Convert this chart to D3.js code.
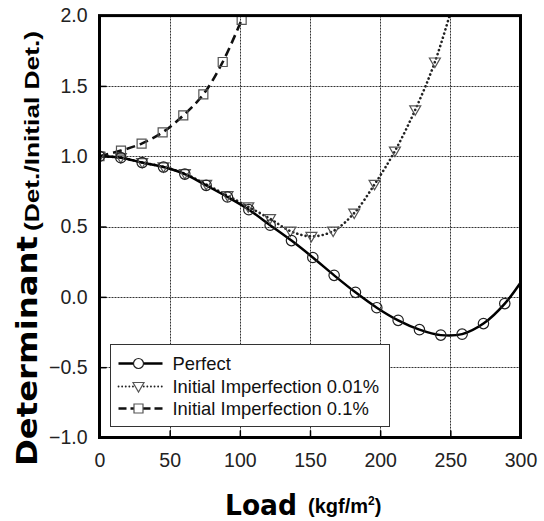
<!DOCTYPE html>
<html>
<head>
<meta charset="utf-8">
<script src="https://cdn.jsdelivr.net/npm/d3@7/dist/d3.min.js"></script>
<style>
  body { margin: 0; background: #fff; }
  svg { display: block; font-family: Arial, "Liberation Sans", sans-serif; }
</style>
</head>
<body>
<div id="chart"></div>
<script>
// Load (kgf/m2) and determinant ratio for each case
const perfectLoad = [0, 15.2, 30.4, 45.6, 60.8, 76, 91.2, 106.4, 121.6, 136.8, 152, 167.2, 182.4, 197.6, 212.8, 228, 243.2, 258.4, 273.6, 288.8, 304];
const perfectDet = [1.00, 0.99, 0.955, 0.923, 0.873, 0.793, 0.71, 0.62, 0.51, 0.40, 0.28, 0.153, 0.032, -0.077, -0.167, -0.233, -0.272, -0.265, -0.19, -0.048, 0.16];

const imp001Load = [0, 15.2, 30.4, 45.6, 60.8, 76, 91.2, 106, 121.5, 136, 151, 166.5, 181.5, 196, 210.5, 225, 239, 253];
const imp001Det = [1.00, 0.99, 0.955, 0.925, 0.876, 0.80, 0.72, 0.64, 0.556, 0.468, 0.43, 0.468, 0.596, 0.80, 1.037, 1.33, 1.67, 2.12];

const imp01Load = [0, 15.3, 30, 45, 59.7, 74, 87.8, 101.3];
const imp01Det = [1.00, 1.04, 1.09, 1.17, 1.29, 1.44, 1.67, 1.97];

const xTicks = [0, 50, 100, 150, 200, 250, 300];
const yTicks = [-1.0, -0.5, 0.0, 0.5, 1.0, 1.5, 2.0];

const seriesNames = ['Perfect', 'Initial Imperfection 0.01%', 'Initial Imperfection 0.1%'];

const W = 544, H = 521;
const plot = { left: 99.5, right: 520.5, top: 15.6, bottom: 437.5 };

const svg = d3.select('#chart').append('svg')
  .attr('width', W)
  .attr('height', H);

const x = d3.scaleLinear().domain([0, 300]).range([plot.left, plot.right]);
const y = d3.scaleLinear().domain([-1, 2]).range([plot.bottom, plot.top]);
const snap = (v) => Math.round(v) + 0.5;

// grid
const grid = svg.append('g')
  .attr('stroke', '#333')
  .attr('stroke-width', 1)
  .attr('stroke-dasharray', '2,1');
grid.selectAll('line.gx')
  .data(xTicks.slice(1, -1))
  .enter().append('line')
  .attr('class', 'gx')
  .attr('x1', (d) => snap(x(d))).attr('x2', (d) => snap(x(d)))
  .attr('y1', plot.top).attr('y2', plot.bottom);
grid.selectAll('line.gy')
  .data(yTicks.slice(1, -1))
  .enter().append('line')
  .attr('class', 'gy')
  .attr('y1', (d) => snap(y(d))).attr('y2', (d) => snap(y(d)))
  .attr('x1', plot.left).attr('x2', plot.right);

// inward ticks
svg.append('g')
  .attr('transform', `translate(0, ${plot.bottom})`)
  .call(d3.axisTop(x).tickValues(xTicks).tickSize(7).tickFormat(''))
  .call((g) => g.select('.domain').remove())
  .selectAll('line').attr('stroke', '#000').attr('stroke-width', 1.5);
svg.append('g')
  .attr('transform', `translate(${plot.left}, 0)`)
  .call(d3.axisRight(y).tickValues(yTicks).tickSize(7).tickFormat(''))
  .call((g) => g.select('.domain').remove())
  .selectAll('line').attr('stroke', '#000').attr('stroke-width', 1.5);

// tick labels
svg.append('g')
  .attr('transform', `translate(0, ${plot.bottom + 13})`)
  .call(d3.axisBottom(x).tickValues(xTicks).tickSize(0).tickFormat(d3.format('d')))
  .call((g) => g.select('.domain').remove())
  .selectAll('text')
  .attr('fill', '#222')
  .style('font-size', '19.5px')
  .style('font-family', 'Arial, "Liberation Sans", sans-serif');
svg.append('g')
  .attr('transform', `translate(${plot.left - 9}, 0)`)
  .call(d3.axisLeft(y).tickValues(yTicks).tickSize(0).tickFormat(d3.format('.1f')))
  .call((g) => g.select('.domain').remove())
  .selectAll('text')
  .attr('fill', '#222')
  .style('font-size', '19.5px')
  .style('font-family', 'Arial, "Liberation Sans", sans-serif');

// data
svg.append('clipPath').attr('id', 'clip')
  .append('rect')
  .attr('x', plot.left).attr('y', plot.top)
  .attr('width', plot.right - plot.left).attr('height', plot.bottom - plot.top);

const data = (xs, ys) => xs.map((v, i) => ({ load: v, det: ys[i] }));
const perfect = data(perfectLoad, perfectDet);
const imp001 = data(imp001Load, imp001Det);
const imp01 = data(imp01Load, imp01Det);

const line = d3.line()
  .x((d) => x(d.load))
  .y((d) => y(d.det))
  .curve(d3.curveCatmullRom);

const plotG = svg.append('g').attr('clip-path', 'url(#clip)');

const styles = [
  { dash: null, width: 2.5, color: '#000', cap: 'butt' },
  { dash: '0.1,4.2', width: 2.6, color: '#222', cap: 'round' },
  { dash: '9,5', width: 2.6, color: '#111', cap: 'butt' }
];

const triPath = 'M-5.5,-4 L5.5,-4 L0,5.5 Z';
const sqPath = 'M-4.5,-4.5 H4.5 V4.5 H-4.5 Z';

const drawMarkers = (g, pts, kind) => {
  const sel = g.selectAll(null).data(pts).enter();
  if (kind === 0) {
    sel.append('circle')
      .attr('cx', (d) => x(d.load)).attr('cy', (d) => y(d.det))
      .attr('r', 5.2)
      .attr('fill', 'none').attr('stroke', '#222').attr('stroke-width', 1.2);
  } else {
    sel.append('path')
      .attr('transform', (d) => `translate(${x(d.load)},${y(d.det)})`)
      .attr('d', kind === 1 ? triPath : sqPath)
      .attr('fill', 'none').attr('stroke', '#555').attr('stroke-width', 1.2);
  }
};

[imp01, imp001, perfect].forEach((pts) => {
  const k = pts === perfect ? 0 : (pts === imp001 ? 1 : 2);
  plotG.append('path')
    .datum(pts)
    .attr('d', line)
    .attr('fill', 'none')
    .attr('stroke', styles[k].color)
    .attr('stroke-width', styles[k].width)
    .attr('stroke-linecap', styles[k].cap)
    .attr('stroke-dasharray', styles[k].dash);
});
drawMarkers(plotG, imp01, 2);
drawMarkers(plotG, imp001, 1);
drawMarkers(plotG, perfect, 0);

// frame
svg.append('rect')
  .attr('x', plot.left).attr('y', plot.top)
  .attr('width', plot.right - plot.left).attr('height', plot.bottom - plot.top)
  .attr('fill', 'none').attr('stroke', '#000').attr('stroke-width', 3);

// legend
const legend = svg.append('g').attr('transform', 'translate(110.5, 344.5)');
legend.append('rect')
  .attr('width', 279).attr('height', 82)
  .attr('fill', '#fff').attr('stroke', '#333').attr('stroke-width', 1);
const rowY = [19, 42, 64];
seriesNames.forEach((name, i) => {
  const row = legend.append('g').attr('transform', `translate(0, ${rowY[i]})`);
  row.append('line')
    .attr('x1', 8).attr('x2', 52)
    .attr('stroke', styles[i].color)
    .attr('stroke-width', i === 1 ? 1.8 : 2.6)
    .attr('stroke-linecap', styles[i].cap)
    .attr('stroke-dasharray', i === 1 ? '0.1,3.5' : (i === 2 ? '8,4' : null));
  if (i === 0) {
    row.append('circle').attr('cx', 28).attr('r', 5)
      .attr('fill', '#fff').attr('stroke', '#222').attr('stroke-width', 1.2);
  } else {
    row.append('path')
      .attr('transform', 'translate(28,0)')
      .attr('d', i === 1 ? triPath : sqPath)
      .attr('fill', '#fff').attr('stroke', '#555').attr('stroke-width', 1.2);
  }
  row.append('text')
    .attr('x', 62).attr('dy', '0.35em')
    .attr('fill', '#111')
    .style('font-size', '18.4px')
    .text(name);
});

// axis titles
svg.append('text')
  .attr('x', 225).attr('y', 515)
  .attr('textLength', 72).attr('lengthAdjust', 'spacingAndGlyphs')
  .style('font-family', '"DejaVu Sans", sans-serif')
  .style('font-weight', 'bold').style('font-size', '29px')
  .text('Load');
const unit = svg.append('text')
  .attr('x', 308).attr('y', 513)
  .style('font-weight', 'bold').style('font-size', '20px');
unit.append('tspan').text('(kgf/m');
unit.append('tspan').attr('dy', -8).style('font-size', '12px').text('2');
unit.append('tspan').attr('dy', 8).text(')');

svg.append('text')
  .attr('transform', 'translate(37, 466) rotate(-90)')
  .attr('textLength', 230).attr('lengthAdjust', 'spacingAndGlyphs')
  .style('font-family', '"DejaVu Sans", sans-serif')
  .style('font-weight', 'bold').style('font-size', '29px')
  .text('Determinant');
svg.append('text')
  .attr('transform', 'translate(39, 231) rotate(-90)')
  .attr('textLength', 200).attr('lengthAdjust', 'spacingAndGlyphs')
  .style('font-weight', 'bold').style('font-size', '20px')
  .text('(Det./Initial Det.)');
</script>
</body>
</html>
